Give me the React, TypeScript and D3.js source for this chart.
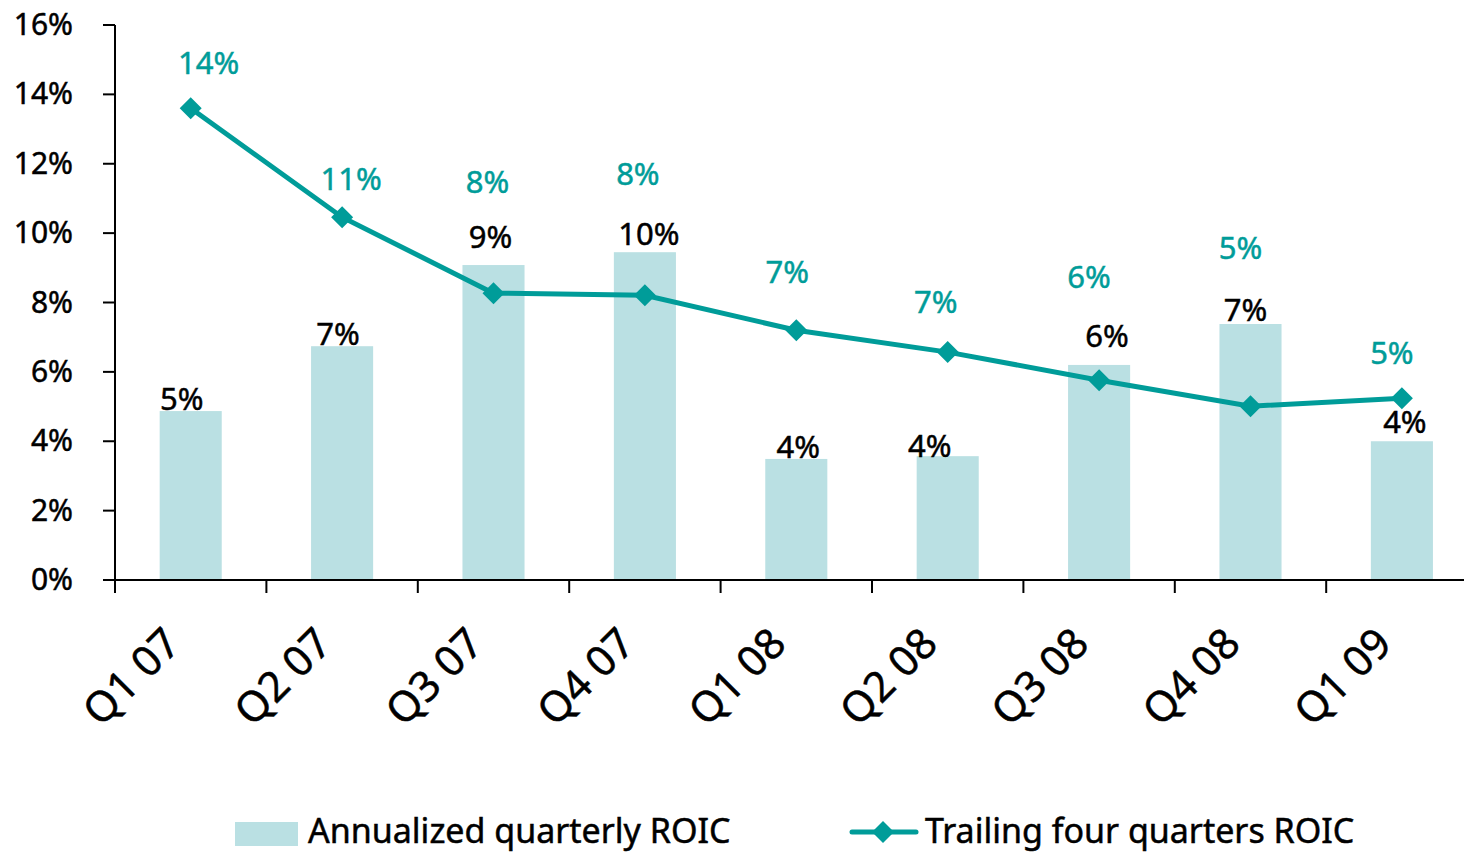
import * as d3 from "d3";

const quarters = ["Q1 07", "Q2 07", "Q3 07", "Q4 07", "Q1 08", "Q2 08", "Q3 08", "Q4 08", "Q1 09"];
const annualized = [4.87, 6.74, 9.08, 9.45, 3.49, 3.57, 6.2, 7.38, 4.0];
const trailing = [13.6, 10.46, 8.27, 8.21, 7.2, 6.57, 5.76, 5.01, 5.24];
const annualizedLabels = ["5%", "7%", "9%", "10%", "4%", "4%", "6%", "7%", "4%"];
const trailingLabels = ["14%", "11%", "8%", "8%", "7%", "7%", "6%", "5%", "5%"];
const yTicks = [0, 2, 4, 6, 8, 10, 12, 14, 16];

// hand-placed label offsets, like the original chart
const barLabelNudge = [
  [-9, -1], [-4, -1], [-3, -17], [4, -7], [2, -1], [-18, 1], [8, -18], [-5, -3], [3, -8],
];
const lineLabelNudge = [
  [18, -34], [9, -27], [-6, -100], [-7, -110], [-9, -47], [-12, -39], [-10, -92], [-10, -147], [-10, -34],
];

const TEAL = "#009C99";
const BAR = "#BAE0E3";
const FONT = "'Noto Sans', sans-serif";

export default function App() {
  const width = 1464;
  const height = 853;
  const x0 = 115;
  const step = 151.4;
  const x = d3
    .scaleBand<string>()
    .domain(quarters)
    .range([x0, x0 + step * quarters.length])
    .padding(0);
  const y = d3.scaleLinear().domain([0, 16]).range([580, 25]);
  const barW = x.bandwidth() * 0.41;
  const cx = (q: string) => (x(q) as number) + x.bandwidth() / 2;

  const line = d3
    .line<number>()
    .x((_, i) => cx(quarters[i]))
    .y((d) => y(d));

  const diamond = (px: number, py: number, r: number) =>
    `M${px},${py - r}L${px + r},${py}L${px},${py + r}L${px - r},${py}Z`;

  const textStroke = { strokeWidth: 0.5 };

  return (
    <div style={{ position: "fixed", left: 0, top: 0, width, height, background: "#fff" }}>
      <svg width={width} height={height} fontFamily={FONT}>
        {annualized.map((v, i) => (
          <rect
            key={i}
            x={cx(quarters[i]) - barW / 2}
            y={y(v)}
            width={barW}
            height={y(0) - y(v)}
            fill={BAR}
          />
        ))}

        {/* axes */}
        <line x1={x0} x2={x0} y1={y(16)} y2={y(0) + 13} stroke="#000" strokeWidth={2} />
        <line x1={x0 - 12} x2={width} y1={y(0)} y2={y(0)} stroke="#000" strokeWidth={2} />
        {yTicks.map((t) => (
          <g key={t}>
            <line x1={x0 - 12} x2={x0} y1={y(t)} y2={y(t)} stroke="#000" strokeWidth={2} />
            <text x={73} y={y(t) + 10} textAnchor="end" fontSize={30} fill="#000" stroke="#000" {...textStroke}>
              {t}%
            </text>
          </g>
        ))}
        {quarters.map((q) => (
          <line
            key={q}
            x1={(x(q) as number) + x.bandwidth()}
            x2={(x(q) as number) + x.bandwidth()}
            y1={y(0)}
            y2={y(0) + 13}
            stroke="#000"
            strokeWidth={2}
          />
        ))}
        {quarters.map((q) => (
          <text
            key={q}
            transform={`translate(${cx(q) - 8},${646}) rotate(-45)`}
            textAnchor="end"
            fontSize={42}
            fill="#000"
            stroke="#000"
            {...textStroke}
          >
            {q}
          </text>
        ))}

        {/* bar labels */}
        {annualized.map((v, i) => (
          <text
            key={i}
            x={cx(quarters[i]) + barLabelNudge[i][0]}
            y={y(v) + barLabelNudge[i][1]}
            textAnchor="middle"
            fontSize={31}
            fill="#000"
            stroke="#000"
            {...textStroke}
          >
            {annualizedLabels[i]}
          </text>
        ))}

        {/* trailing line */}
        <path d={line(trailing) || ""} fill="none" stroke={TEAL} strokeWidth={5} />
        {trailing.map((v, i) => (
          <path key={i} d={diamond(cx(quarters[i]), y(v), 11)} fill={TEAL} />
        ))}
        {trailing.map((v, i) => (
          <text
            key={i}
            x={cx(quarters[i]) + lineLabelNudge[i][0]}
            y={y(v) + lineLabelNudge[i][1]}
            textAnchor="middle"
            fontSize={31}
            fill={TEAL}
            stroke={TEAL}
            {...textStroke}
          >
            {trailingLabels[i]}
          </text>
        ))}

        {/* legend */}
        <rect x={235} y={822} width={63} height={24} fill={BAR} />
        <text x={308} y={843} fontSize={34} fill="#000" stroke="#000" {...textStroke}>
          Annualized quarterly ROIC
        </text>
        <line x1={852} x2={916} y1={832} y2={832} stroke={TEAL} strokeWidth={5} strokeLinecap="round" />
        <path d={diamond(883, 832, 11)} fill={TEAL} />
        <text x={925} y={843} fontSize={34} fill="#000" stroke="#000" {...textStroke}>
          Trailing four quarters ROIC
        </text>
      </svg>
    </div>
  );
}
